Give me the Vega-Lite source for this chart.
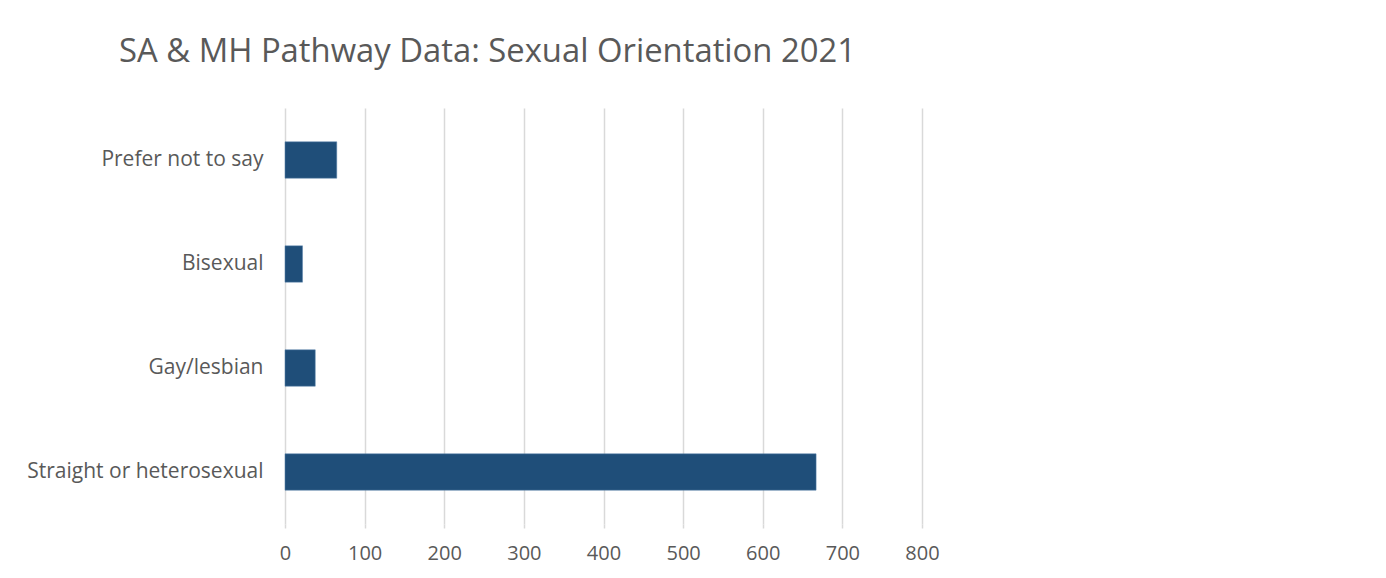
{
  "$schema": "https://vega.github.io/schema/vega-lite/v6.json",
  "autosize": {"type": "none"},
  "width": 637,
  "height": 416,
  "padding": {"left": 285, "top": 108, "right": 464, "bottom": 54},
  "background": "white",
  "title": {
    "text": "SA & MH Pathway Data: Sexual Orientation 2021",
    "font": "Open Sans",
    "fontSize": 32.8,
    "fontWeight": "normal",
    "color": "#595959",
    "anchor": "middle",
    "dx": -116,
    "offset": 39
  },
  "data": {
    "values": [
      {"orientation": "Prefer not to say", "count": 65},
      {"orientation": "Bisexual", "count": 22},
      {"orientation": "Gay/lesbian", "count": 38},
      {"orientation": "Straight or heterosexual", "count": 667}
    ]
  },
  "mark": {"type": "bar", "color": "#1F4E79", "stroke": "#5b84ad", "strokeWidth": 0.5},
  "encoding": {
    "y": {
      "field": "orientation",
      "type": "nominal",
      "sort": ["Prefer not to say", "Bisexual", "Gay/lesbian", "Straight or heterosexual"],
      "scale": {"paddingInner": 0.65, "paddingOuter": 0.325},
      "axis": {
        "title": null,
        "domain": false,
        "ticks": false,
        "labelFont": "Open Sans",
        "labelFontSize": 21,
        "labelColor": "#595959",
        "labelPadding": 22,
        "labelLimit": 300
      }
    },
    "x": {
      "field": "count",
      "type": "quantitative",
      "scale": {"domain": [0, 800], "nice": false},
      "axis": {
        "title": null,
        "values": [0, 100, 200, 300, 400, 500, 600, 700, 800],
        "domain": false,
        "ticks": true,
        "tickSize": 4,
        "tickColor": "#d9d9d9",
        "tickWidth": 1.5,
        "grid": true,
        "gridColor": "#d9d9d9",
        "gridWidth": 1.5,
        "labelFont": "Open Sans",
        "labelFontSize": 20,
        "labelColor": "#595959",
        "labelPadding": 15,
        "labelFlush": false,
        "labelOverlap": false
      }
    }
  },
  "config": {"view": {"stroke": null}}
}
